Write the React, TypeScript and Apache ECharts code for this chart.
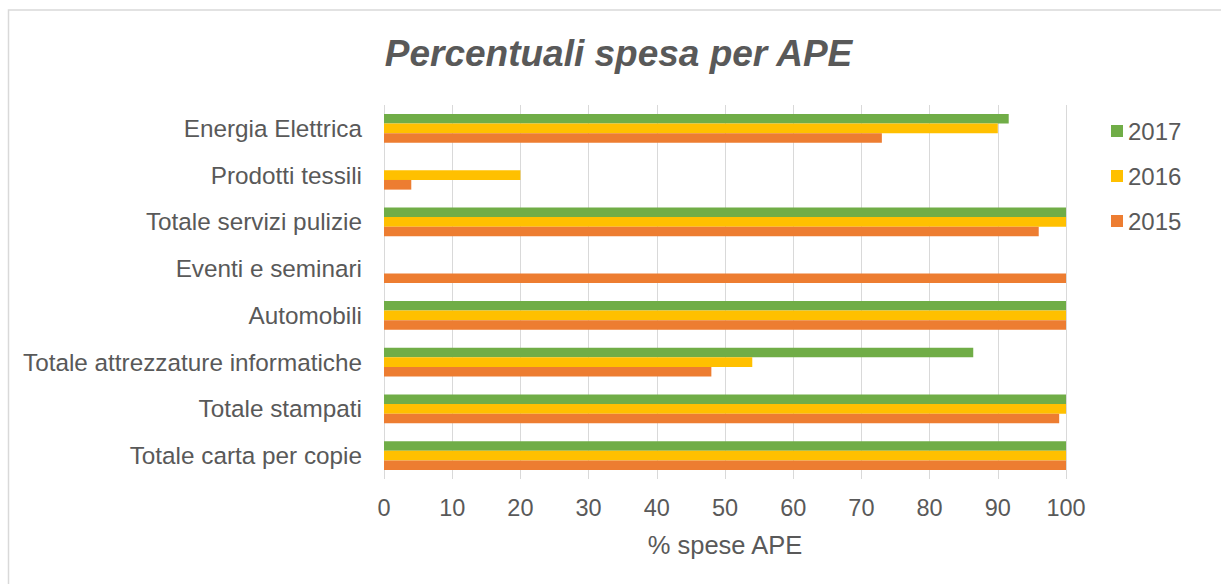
import React, { useEffect, useRef } from "react";
import * as echarts from "echarts";

const categories = [
  "Energia Elettrica",
  "Prodotti tessili",
  "Totale servizi pulizie",
  "Eventi e seminari",
  "Automobili",
  "Totale attrezzature informatiche",
  "Totale stampati",
  "Totale carta per copie",
];
const values2017 = [91.6, 0, 100, 0, 100, 86.4, 100, 100];
const values2016 = [90, 20, 100, 0, 100, 54, 100, 100];
const values2015 = [73, 4, 96, 100, 100, 48, 99, 100];
const xTicks = { min: 0, max: 100, interval: 10 };

const FONT = "'Liberation Sans', Arial, sans-serif";
const TEXT = "#595959";

export default function App() {
  const ref = useRef<HTMLDivElement>(null);
  useEffect(() => {
    document.body.style.margin = "0";
    const chart = echarts.init(ref.current!, null, { renderer: "svg" });
    const mk = (name: string, data: number[], color: string) => ({
      name,
      type: "bar",
      data,
      barGap: "0%",
      barCategoryGap: "38%",
      itemStyle: { color },
    });
    chart.setOption({
      animation: false,
      backgroundColor: "#ffffff",
      textStyle: { fontFamily: FONT },
      graphic: [
        {
          type: "rect",
          shape: { x: 8.5, y: 10, width: 1400, height: 800 },
          style: { fill: "none", stroke: "#d9d9d9", lineWidth: 1.5 },
          silent: true,
        },
        {
          type: "text",
          x: 618.5,
          y: 53,
          style: {
            text: "Percentuali spesa per APE",
            fontFamily: FONT,
            fontSize: 37,
            fontWeight: "bold",
            fontStyle: "italic",
            fill: TEXT,
            align: "center",
            verticalAlign: "middle",
          },
        },
      ],
      legend: {
        orient: "vertical",
        left: 1111,
        top: 119,
        padding: 0,
        itemWidth: 12,
        itemHeight: 12,
        itemGap: 21,
        icon: "rect",
        data: ["2017", "2016", "2015"],
        textStyle: { fontSize: 24, color: TEXT, fontFamily: FONT, lineHeight: 24 },
      },
      grid: { left: 384, right: 155, top: 105, bottom: 105, containLabel: false },
      xAxis: {
        type: "value",
        min: xTicks.min,
        max: xTicks.max,
        interval: xTicks.interval,
        name: "% spese APE",
        nameLocation: "middle",
        nameGap: 53,
        nameTextStyle: { fontSize: 25.5, color: TEXT, fontFamily: FONT },
        axisLine: { show: false },
        axisTick: { show: false },
        axisLabel: { fontSize: 23.5, color: TEXT, margin: 17, fontFamily: FONT },
        splitLine: { show: true, lineStyle: { color: "#d9d9d9", width: 1 } },
      },
      yAxis: {
        type: "category",
        inverse: true,
        data: categories,
        axisLine: { show: false },
        axisTick: { show: false },
        axisLabel: { fontSize: 24.3, color: TEXT, margin: 22, fontFamily: FONT },
      },
      series: [
        mk("2017", values2017, "#70AD47"),
        mk("2016", values2016, "#FFC000"),
        mk("2015", values2015, "#ED7D31"),
      ],
    });
    return () => chart.dispose();
  }, []);
  return <div ref={ref} style={{ width: 1221, height: 584 }} />;
}
